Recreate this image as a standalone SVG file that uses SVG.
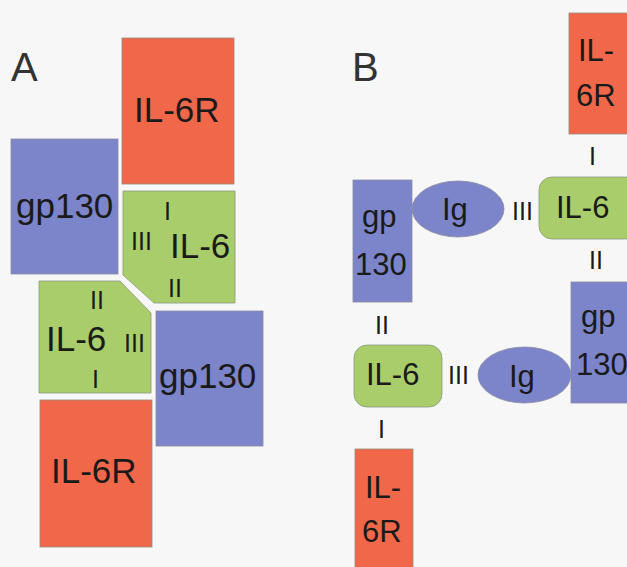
<svg xmlns="http://www.w3.org/2000/svg" width="627" height="567" viewBox="0 0 627 567">
<style>
.bg{fill:#f7f7f7}
.r{fill:#f0674a;stroke:#9a8a80;stroke-width:0.8}
.b{fill:#7c85ca;stroke:#8a8aa0;stroke-width:0.8}
.g{fill:#a8cd6a;stroke:#8a9a80;stroke-width:0.8}
text{font-family:"Liberation Sans",Arial,sans-serif;fill:#1a1a1a}
.t{font-size:35px}
.tb{font-size:31px}
.n{font-size:25px}
.lbl{font-size:40px;fill:#333}
</style>
<rect class="bg" x="0" y="0" width="627" height="567"/>
<text class="lbl" x="11" y="81">A</text>
<text class="lbl" x="352" y="81">B</text>

<g id="A-IL6R-top">
<rect class="r" x="122" y="38" width="112" height="146"/>
<text class="t" x="134" y="122">IL-6R</text>
</g>
<g id="A-gp130-left">
<rect class="b" x="11" y="139" width="107" height="135"/>
<text class="t" x="16" y="218">gp130</text>
</g>
<g id="A-IL6-top">
<path class="g" d="M123,191 H235 V303 H154 L123,275 Z"/>
<text class="n" x="164" y="220">I</text>
<text class="n" x="131" y="250">III</text>
<text class="t" x="170" y="258">IL-6</text>
<text class="n" x="168" y="297">II</text>
</g>
<g id="A-IL6-bottom">
<path class="g" d="M39,281 H120 L151,313 V393 H39 Z"/>
<text class="n" x="90" y="309">II</text>
<text class="t" x="46" y="351">IL-6</text>
<text class="n" x="124" y="352">III</text>
<text class="n" x="92" y="388">I</text>
</g>
<g id="A-gp130-right">
<rect class="b" x="156" y="311" width="107" height="135"/>
<text class="t" x="159" y="388">gp130</text>
</g>
<g id="A-IL6R-bottom">
<rect class="r" x="40" y="400" width="112" height="147"/>
<text class="t" x="51" y="483">IL-6R</text>
</g>

<g id="B-IL6R-top">
<rect class="r" x="569" y="13" width="70" height="121"/>
<text class="tb" x="578" y="61">IL-</text>
<text class="tb" x="576" y="106">6R</text>
</g>
<g id="B-gp130-left">
<rect class="b" x="353" y="180" width="59" height="122"/>
<text class="tb" x="362" y="227">gp</text>
<text class="tb" x="355" y="275">130</text>
</g>
<g id="B-Ig-top">
<ellipse class="b" cx="458" cy="209" rx="46" ry="28"/>
<text class="tb" x="442" y="220">Ig</text>
</g>
<g id="B-IL6-top">
<rect class="g" x="539" y="177" width="100" height="62" rx="13"/>
<text class="tb" x="556" y="218">IL-6</text>
</g>
<g id="B-gp130-right">
<rect class="b" x="571" y="282" width="70" height="121"/>
<text class="tb" x="581" y="327">gp</text>
<text class="tb" x="576" y="375">130</text>
</g>
<g id="B-IL6-bottom">
<rect class="g" x="354" y="345" width="88" height="62" rx="13"/>
<text class="tb" x="366" y="385">IL-6</text>
</g>
<g id="B-Ig-bottom">
<ellipse class="b" cx="524.5" cy="375" rx="46.5" ry="28"/>
<text class="tb" x="509" y="387">Ig</text>
</g>
<g id="B-IL6R-bottom">
<rect class="r" x="355" y="449" width="58" height="125"/>
<text class="tb" x="365" y="498">IL-</text>
<text class="tb" x="362" y="542">6R</text>
</g>
<g id="connectors">
<text class="n" x="589" y="165">I</text>
<text class="n" x="512" y="220">III</text>
<text class="n" x="589" y="269">II</text>
<text class="n" x="375" y="334">II</text>
<text class="n" x="448" y="384">III</text>
<text class="n" x="378" y="438">I</text>
</g>
</svg>
